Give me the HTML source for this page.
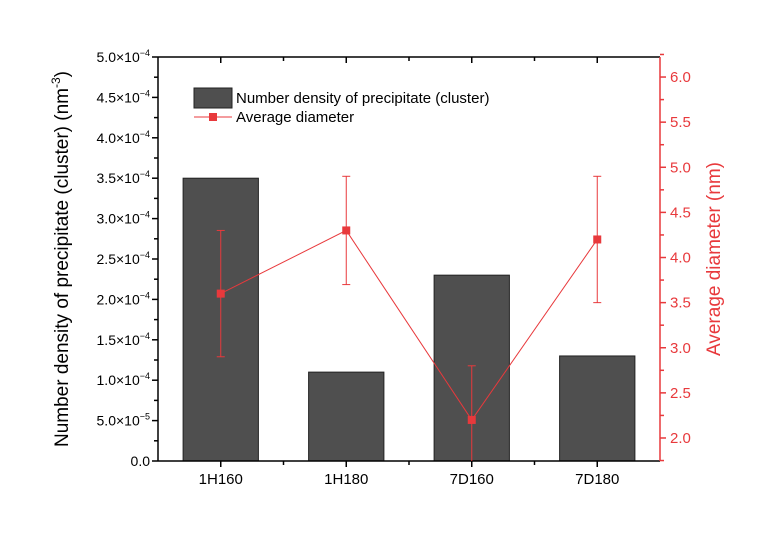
<!DOCTYPE html>
<html><head><meta charset="utf-8"><style>
body{margin:0;background:#fff}
svg{font-family:"Liberation Sans",sans-serif}
</style></head><body>
<svg id="c" width="764" height="528" viewBox="0 0 764 528"></svg>
<script>
const categories=["1H160","1H180","7D160","7D180"];
const densityValues=[3.5e-4,1.1e-4,2.3e-4,1.3e-4];
const diameterValues=[3.6,4.3,2.2,4.2];
const diameterErrors=[0.7,0.6,0.6,0.7];
const leftTicks=[0,0.5e-4,1e-4,1.5e-4,2e-4,2.5e-4,3e-4,3.5e-4,4e-4,4.5e-4,5e-4];
const leftTickLabels=["0.0","5.0×10","1.0×10","1.5×10","2.0×10","2.5×10","3.0×10","3.5×10","4.0×10","4.5×10","5.0×10"];
const leftTickExp=["","−5","−4","−4","−4","−4","−4","−4","−4","−4","−4"];
const rightTicks=[2.0,2.5,3.0,3.5,4.0,4.5,5.0,5.5,6.0];

const NS="http://www.w3.org/2000/svg";
const svg=document.getElementById('c');
const L=158,R=660,T=57,B=461;
const xS=i=>L+(i+0.5)*(R-L)/4;
const yL=v=>B-(v/5e-4)*(B-T);
const rMin=1.745,rMax=6.222;
const yR=v=>B-(v-rMin)/(rMax-rMin)*(B-T);
function mk(tag,a,parent){const e=document.createElementNS(NS,tag);for(const k in a)e.setAttribute(k,a[k]);(parent||svg).appendChild(e);return e;}
const red="#e8393c";

const bw=0.6*(R-L)/4;
categories.forEach((c,i)=>{
  const r=mk('rect',{x:xS(i)-bw/2,y:yL(densityValues[i]),width:bw,height:B-yL(densityValues[i]),fill:'#4f4f4f',stroke:'#222','stroke-width':1});
  
  
});
const ax=mk('g',{stroke:'#000','stroke-width':1.5,fill:'none'});


mk('line',{x1:L,y1:B,x2:R,y2:B},ax);
mk('line',{x1:L,y1:T,x2:R,y2:T},ax);
mk('line',{x1:L,y1:T,x2:L,y2:B},ax);
for(let k=1;k<8;k++){const x=L+k*(R-L)/8;
  mk('line',{x1:x,y1:B,x2:x,y2:B+(k%2?6:4)},ax);mk('line',{x1:x,y1:T,x2:x,y2:T+(k%2?6:4)},ax);}
categories.forEach((c,i)=>{const t=mk('text',{x:xS(i),y:B+23,'text-anchor':'middle','font-size':15,fill:'#000'});t.textContent=c;
  });
leftTicks.forEach((v,i)=>{const y=yL(v);mk('line',{x1:L,y1:y,x2:L-6,y2:y},ax);
  if(i<leftTicks.length-1)mk('line',{x1:L,y1:y-(B-T)/20,x2:L-4,y2:y-(B-T)/20},ax);
  const t=mk('text',{x:L-8,y:y+5,'text-anchor':'end','font-size':14,fill:'#000'});
  
  if(leftTickExp[i]){t.innerHTML=leftTickLabels[i]+'<tspan dy="-6" font-size="9">'+leftTickExp[i]+'</tspan>';}
  else t.textContent=leftTickLabels[i];
});
const ra=mk('g',{stroke:red,'stroke-width':1.5});


mk('line',{x1:R,y1:T,x2:R,y2:B},ra);
rightTicks.forEach(v=>{const y=yR(v);mk('line',{x1:R,y1:y,x2:R+6,y2:y},ra);
  const t=mk('text',{x:R+10,y:y+5,'font-size':15,fill:red,stroke:'none'});t.textContent=v.toFixed(1);
  });
for(let v=1.75;v<6.3;v+=0.5){mk('line',{x1:R,y1:yR(v),x2:R+4,y2:yR(v)},ra);}
const pts=diameterValues.map((v,i)=>xS(i)+','+yR(v)).join(' ');
const pl=mk('polyline',{points:pts,fill:'none',stroke:red,'stroke-width':1});

diameterValues.forEach((v,i)=>{const x=xS(i);
  const hi=yR(v+diameterErrors[i]),lo=Math.min(B,yR(v-diameterErrors[i]));
  const g=mk('g',{stroke:red,'stroke-width':1,fill:red});
  
  mk('line',{x1:x,y1:hi,x2:x,y2:lo},g);
  mk('line',{x1:x-4,y1:hi,x2:x+4,y2:hi},g);
  if(lo<B)mk('line',{x1:x-4,y1:lo,x2:x+4,y2:lo},g);
  mk('rect',{x:x-4,y:yR(v)-4,width:8,height:8,stroke:'none'},g);
});
const lg=mk('g',{});

mk('rect',{x:194,y:88,width:38,height:20,fill:'#4f4f4f',stroke:'#222'},lg);
let t=mk('text',{x:236,y:103,'font-size':15,fill:'#000'},lg);t.textContent="Number density of precipitate (cluster)";
mk('line',{x1:194,y1:117,x2:232,y2:117,stroke:red},lg);
mk('rect',{x:209,y:113,width:8,height:8,fill:red},lg);
t=mk('text',{x:236,y:122,'font-size':15,fill:'#000'},lg);t.textContent="Average diameter";
t=mk('text',{transform:'translate(68,259) rotate(-90)','text-anchor':'middle','font-size':19,fill:'#000'});

t.innerHTML='Number density of precipitate (cluster) (nm<tspan dy="-8" font-size="12">-3</tspan><tspan dy="8">)</tspan>';
t=mk('text',{transform:'translate(720,259) rotate(-90)','text-anchor':'middle','font-size':19,fill:red});

t.textContent='Average diameter (nm)';
</script>
</body></html>
